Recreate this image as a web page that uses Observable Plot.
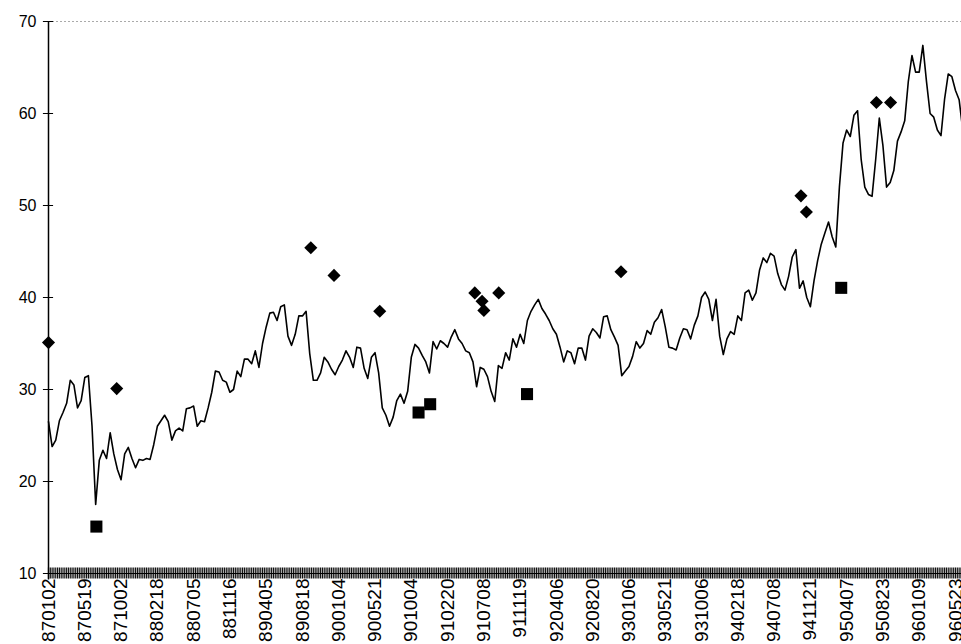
<!DOCTYPE html>
<html>
<head>
<meta charset="utf-8">
<script src="https://cdn.jsdelivr.net/npm/d3@7"></script>
<script src="https://cdn.jsdelivr.net/npm/@observablehq/plot@0.6"></script>
<style>
  html, body { margin: 0; padding: 0; background: #fff; }
  #chart { width: 961px; height: 644px; overflow: hidden; }
</style>
</head>
<body>
<div id="chart"></div>
<script>
// Category labels (YYMMDD), one every 10 samples of the series
const dateLabels = ["870102","870519","871002","880218","880705","881116","890405","890818",
  "900104","900521","901004","910220","910708","911119","920406","920820","930106","930521",
  "931006","940218","940708","941121","950407","950823","960109","960523"];

// Price series, sampled at an even step along the category axis (10 samples per label interval)
const price = [
  26.5,23.8,24.5,26.6,27.5,28.5,31,30.5,28,28.8,
  31.3,31.5,26,17.5,22.3,23.4,22.5,25.3,23,21.3,
  20.2,23,23.7,22.5,21.5,22.4,22.3,22.5,22.4,24,
  26,26.6,27.2,26.5,24.5,25.5,25.8,25.5,27.9,28,
  28.2,26,26.6,26.5,28,29.7,32,31.9,31,30.8,
  29.7,30,32,31.4,33.3,33.3,32.8,34.2,32.4,35,
  36.8,38.3,38.4,37.5,39,39.2,35.8,34.8,36,38,
  38,38.5,33.9,31,31,31.8,33.5,33,32.2,31.6,
  32.5,33.2,34.2,33.5,32.4,34.6,34.5,32.3,31.2,33.5,
  34,31.8,28,27.2,26,27,28.8,29.5,28.5,29.8,
  33.5,34.9,34.5,33.7,33,31.8,35.2,34.4,35.3,35,
  34.6,35.7,36.5,35.5,35,34.2,34,33,30.3,32.4,
  32.2,31.4,29.8,28.7,32.6,32.3,34,33.2,35.5,34.6,
  36,35,37.5,38.5,39.2,39.8,38.8,38.2,37.5,36.6,
  36,34.6,33,34.2,34,32.8,34.5,34.5,33.2,35.8,
  36.6,36.2,35.6,37.9,38,36.5,35.7,34.8,31.5,32,
  32.5,33.6,35.2,34.5,35,36.4,36,37.3,37.8,38.7,
  36.8,34.6,34.5,34.3,35.6,36.6,36.5,35.5,37,38,
  40,40.6,39.8,37.5,39.8,35.8,33.8,35.5,36.3,36,
  38,37.5,40.5,40.8,39.7,40.5,43,44.3,43.8,44.8,
  44.5,42.6,41.4,40.8,42.3,44.4,45.2,41,41.8,40,
  39,41.8,44,45.8,47,48.2,46.6,45.5,52,56.8,
  58.2,57.5,59.8,60.3,55,52,51.2,51,55,59.5,
  56.5,52,52.5,53.8,57,58,59.2,63.5,66.3,64.5,
  64.5,67.4,63.5,60,59.6,58.2,57.6,61.6,64.3,64,
  62.5,61.5,58.2
];

// Diamond markers (position in samples, value)
const diamondPos = [0, 18.8, 72.3, 78.7, 91.3, 117.5, 119.5, 120, 124.1, 157.8, 207.4, 208.9, 228.2, 232.1];
const diamondVal = [35.1, 30.1, 45.4, 42.4, 38.5, 40.5, 39.6, 38.6, 40.5, 42.8, 51.05, 49.3, 61.2, 61.2];

// Square markers
const squarePos = [13.2, 102, 105.2, 131.9, 218.5];
const squareVal = [15.1, 27.5, 28.4, 29.5, 41.05];

const yTicks = [10, 20, 30, 40, 50, 60, 70];

const labelPos = dateLabels.map((d, i) => i * 10);
const series = price.map((v, i) => ({i, v}));
const diamonds = diamondPos.map((p, k) => ({i: p, v: diamondVal[k]}));
const squares = squarePos.map((p, k) => ({i: p, v: squareVal[k]}));
// dense category tick marks along the bottom axis
const catTicks = d3.range(0, price.length - 0.5, 0.5);

const chart = Plot.plot({
  width: 961,
  height: 644,
  marginTop: 21,
  marginBottom: 71,
  marginLeft: 48,
  marginRight: 6,
  x: {domain: [0, 250], label: null},
  y: {domain: [10, 70], label: null},
  style: {fontFamily: "'Liberation Sans', Arial, sans-serif", background: "white", color: "black", overflow: "visible"},
  marks: [
    Plot.ruleY([70], {x1: 0, x2: 252, stroke: "#aaa", strokeDasharray: "2,2"}),
    Plot.ruleX(catTicks, {x: d => d, y1: 9.4, y2: 10.6, stroke: "#111", strokeWidth: 1.2}),
    Plot.ruleY([10], {x1: 0, x2: 252, stroke: "black"}),
    Plot.ruleX([0], {y1: 9.3, y2: 70, stroke: "black", strokeWidth: 1.5}),
    Plot.ruleY(yTicks, {y: d => d, x1: -1.4, x2: 1.4, stroke: "black"}),
    Plot.axisY({ticks: yTicks, tickSize: 0, tickPadding: 12, fontSize: 16, label: null, tickFormat: d => String(d)}),
    Plot.axisX({ticks: labelPos, tickFormat: d => dateLabels[Math.round(d / 10)], tickRotate: -90, tickSize: 0, tickPadding: 5, fontSize: 19, label: null}),
    Plot.lineY(series, {x: "i", y: "v", stroke: "black", strokeWidth: 1.6}),
    Plot.dot(diamonds, {x: "i", y: "v", symbol: "diamond2", r: 5.9, fill: "black", stroke: "none"}),
    Plot.dot(squares, {x: "i", y: "v", symbol: "square", r: 6.8, fill: "black", stroke: "none"})
  ]
});
document.getElementById("chart").appendChild(chart);
</script>
</body>
</html>
